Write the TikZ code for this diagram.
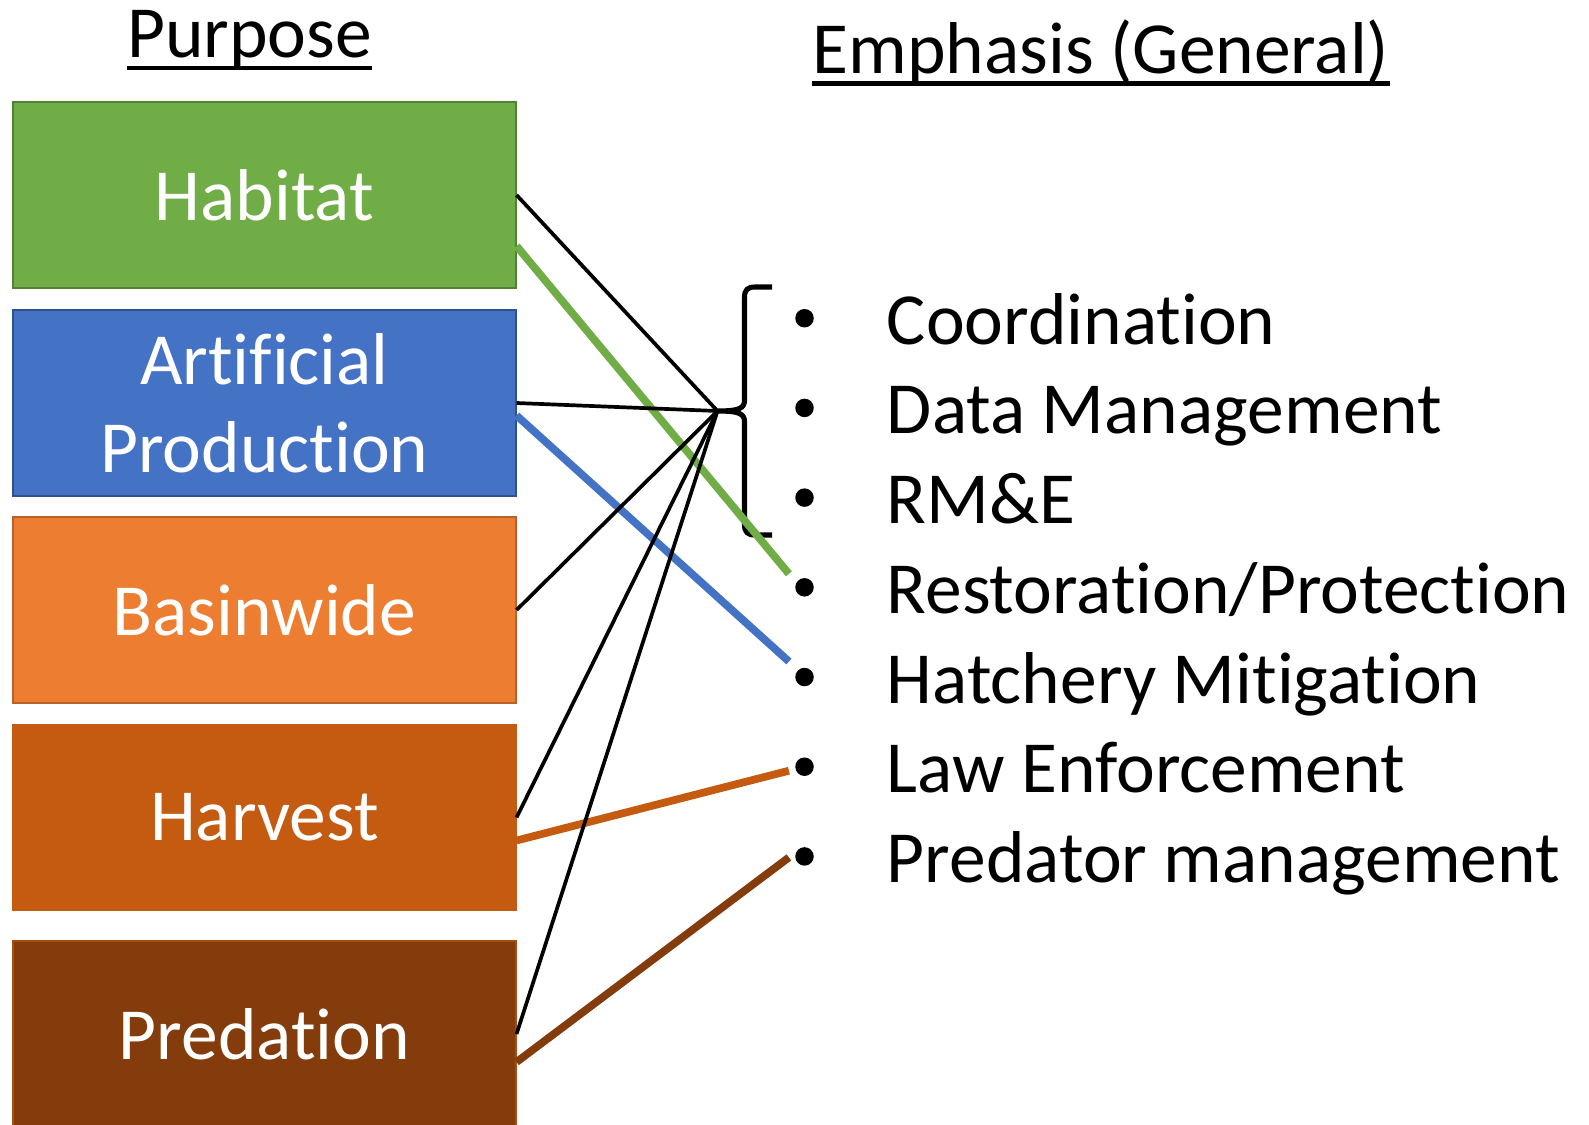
\documentclass[tikz,border=0pt]{standalone}
\usepackage{fontspec}
\setmainfont{Carlito}[Ligatures = {NoCommon, NoContextual}, Contextuals = NoAlternate,
  RawFeature = {-liga;-clig;-calt;-rlig}]
\usetikzlibrary{positioning}

\definecolor{habGreen}{HTML}{70AD47}
\definecolor{habGreenEdge}{HTML}{548235}
\definecolor{artBlue}{HTML}{4472C4}
\definecolor{artBlueEdge}{HTML}{2F528F}
\definecolor{basOrange}{HTML}{ED7D31}
\definecolor{basOrangeEdge}{HTML}{B9612A}
\definecolor{harOrange}{HTML}{C55A11}
\definecolor{preBrown}{HTML}{843C0C}
\definecolor{preBrownEdge}{HTML}{A64D12}

\newcommand\purFont{\fontsize{41.8}{50}\selectfont}

\def\purBoxWidth{10.05}
\def\purBoxHeight{3.71}
\def\purBoxX{5.29}
\def\emBulX{16.09}
\def\emBulTop{6.364}
\def\emBulPitch{1.794}
\def\emTxtX{17.73}
\def\emTxtDrop{0.52}

\tikzset{
  purbox/.style = {draw, line width = 0.9pt, minimum width = \purBoxWidth cm,
    minimum height = \purBoxHeight cm, inner sep = 0pt, text = white,
    align = center, font = \purFont},
  coltitle/.style = {inner sep = 0pt, font = \purFont},
  underbar/.style = {line width = 2.3pt},
  emitem/.style = {inner sep = 0pt, font = \purFont, anchor = base west},
  bulletdot/.style = {circle, fill = black, inner sep = 0pt, minimum size = 0.37cm},
  tieline/.style = {line width = 2.1pt},
  linkline/.style = {line width = 4.4pt},
  bracket/.style = {line width = 2.9pt},
}

\begin{document}
\begin{tikzpicture}
            \useasboundingbox (0,0) rectangle (31.78,-22.48);
            %% column titles
            \node [coltitle, anchor = base] (purTitle) at (4.99,-1.14) {Purpose};
            \draw [underbar]
            ([yshift=-0.22cm]purTitle.base west) -- ([yshift=-0.22cm]purTitle.base east);
            \node [coltitle, anchor = base] (empTitle) at (22.02,-1.46) {Emphasis (General)};
            \draw [underbar]
            ([yshift=-0.21cm]empTitle.base west) -- ([yshift=-0.21cm]empTitle.base east);
            %% purpose boxes
            \node [purbox, fill = habGreen, draw = habGreenEdge] (hab) at (\purBoxX,-3.90) {Habitat};
            \node [purbox, fill = artBlue, draw = artBlueEdge] (art) at (\purBoxX,-8.06) {Artificial\\Production};
            \node [purbox, fill = basOrange, draw = basOrangeEdge] (bas) at (\purBoxX,-12.20) {Basinwide};
            \node [purbox, fill = harOrange, draw = harOrange] (har) at (\purBoxX,-16.35) {Harvest};
            \node [purbox, fill = preBrown, draw = preBrownEdge] (pre) at (\purBoxX,-20.68) {Predation};
            %% emphasis list
            \foreach \itm [count = \i] in {Coordination, Data Management, RM\&E,
              Restoration/Protection, Hatchery Mitigation, Law Enforcement, Predator management}
            {
              \node [bulletdot] (bul\i) at (\emBulX,{-\emBulTop-(\i-1)*\emBulPitch}) {};
              \node [emitem] (itm\i) at (\emTxtX,{-\emBulTop-(\i-1)*\emBulPitch-\emTxtDrop}) {\itm};
            }
            %% brace over the general items
            \coordinate (tip) at (14.35,-8.22);
            \draw [bracket]
            (15.44,-5.74) -- (15.10,-5.74)
            .. controls (14.95,-5.74) and (14.89,-5.80) .. (14.89,-5.95)
            -- (14.89,-8.00)
            .. controls (14.89,-8.16) and (14.80,-8.22) .. (tip)
            .. controls (14.80,-8.22) and (14.89,-8.28) .. (14.89,-8.44)
            -- (14.89,-10.49)
            .. controls (14.89,-10.64) and (14.95,-10.70) .. (15.10,-10.70)
            -- (15.44,-10.70);
            %% specific links
            \draw [linkline, habGreen]
            ([yshift=-1.02cm]hab.east) -- ([xshift=-0.12cm, yshift=0.27cm]bul4.west);
            \draw [linkline, artBlue]
            ([yshift=-0.25cm]art.east) -- ([xshift=-0.12cm, yshift=0.31cm]bul5.west);
            \draw [linkline, harOrange]
            ([yshift=-0.46cm]har.east) -- ([xshift=-0.12cm, yshift=-0.08cm]bul6.west);
            \draw [linkline, preBrown]
            ([yshift=-0.56cm]pre.east) -- ([xshift=-0.12cm, yshift=-0.02cm]bul7.west);
            %% general links
            \foreach \b in {hab, art, bas, har, pre}
            {
              \draw [tieline] (\b.east) -- (tip);
            }
\end{tikzpicture}
\end{document}
